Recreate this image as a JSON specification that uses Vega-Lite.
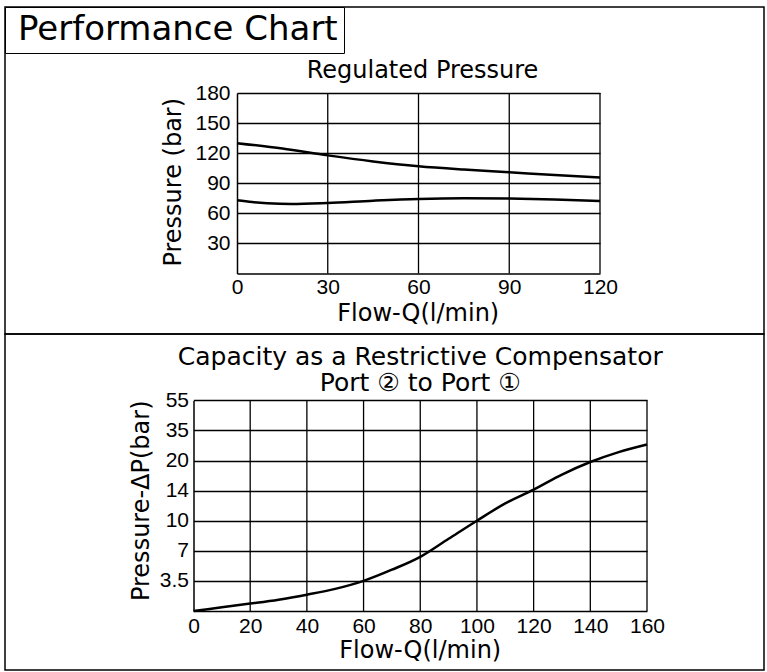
{
  "$schema": "https://vega.github.io/schema/vega-lite/v6.json",
  "background": "white",
  "padding": {"left": 4, "top": 6, "right": 0, "bottom": 0},
  "datasets": {
    "regulated": [
      {"series": "upper", "flow": 0, "pressure": 130},
      {"series": "upper", "flow": 15, "pressure": 124.6},
      {"series": "upper", "flow": 30, "pressure": 117.8},
      {"series": "upper", "flow": 45, "pressure": 111.8},
      {"series": "upper", "flow": 60, "pressure": 107},
      {"series": "upper", "flow": 75, "pressure": 103.7},
      {"series": "upper", "flow": 90, "pressure": 101},
      {"series": "upper", "flow": 105, "pressure": 98.2},
      {"series": "upper", "flow": 120, "pressure": 95.7},
      {"series": "lower", "flow": 0, "pressure": 73},
      {"series": "lower", "flow": 5, "pressure": 71.2},
      {"series": "lower", "flow": 10, "pressure": 70},
      {"series": "lower", "flow": 18, "pressure": 69.2},
      {"series": "lower", "flow": 30, "pressure": 70.3},
      {"series": "lower", "flow": 45, "pressure": 72.6},
      {"series": "lower", "flow": 60, "pressure": 74.4},
      {"series": "lower", "flow": 75, "pressure": 75.1},
      {"series": "lower", "flow": 90, "pressure": 74.8},
      {"series": "lower", "flow": 105, "pressure": 73.8},
      {"series": "lower", "flow": 120, "pressure": 72.4}
    ],
    "capacity": [
      {"flow": 0, "dp": 0},
      {"flow": 10, "dp": 0.43},
      {"flow": 20, "dp": 0.86},
      {"flow": 30, "dp": 1.32},
      {"flow": 40, "dp": 1.9},
      {"flow": 50, "dp": 2.57},
      {"flow": 60, "dp": 3.5},
      {"flow": 70, "dp": 4.8},
      {"flow": 80, "dp": 6.3},
      {"flow": 90, "dp": 8.2},
      {"flow": 100, "dp": 10},
      {"flow": 110, "dp": 12.3},
      {"flow": 120, "dp": 14.2},
      {"flow": 130, "dp": 17.2},
      {"flow": 140, "dp": 19.7},
      {"flow": 150, "dp": 24.2},
      {"flow": 160, "dp": 28}
    ],
    "gridTop": [{"flow": 30}, {"flow": 60}, {"flow": 90}, {"flow": 120}],
    "gridBottom": [{"flow": 20}, {"flow": 40}, {"flow": 60}, {"flow": 80}, {"flow": 100}, {"flow": 120}, {"flow": 140}, {"flow": 160}],
    "header": [{"chart": "Performance Chart"}]
  },
  "vconcat": [
    {
      "width": 759,
      "height": 327,
      "title": {
        "text": "Regulated Pressure",
        "font": "DejaVu Sans",
        "fontSize": 24,
        "fontWeight": "normal",
        "color": "black",
        "anchor": "middle",
        "frame": "group",
        "baseline": "alphabetic",
        "dx": 38,
        "offset": -95
      },
      "layer": [
        {
          "data": {"name": "gridTop"},
          "mark": {"type": "rule", "color": "black", "strokeWidth": 1.3},
          "encoding": {
            "x": {"field": "flow", "type": "quantitative"},
            "y": {"datum": 0, "type": "quantitative"},
            "y2": {"datum": 180}
          }
        },
        {
          "data": {"name": "regulated"},
          "mark": {"type": "line", "interpolate": "monotone", "color": "black", "strokeWidth": 2.5},
          "encoding": {
            "x": {
              "field": "flow", "type": "quantitative",
              "scale": {"domain": [0, 120], "range": [232, 595], "nice": false, "zero": false},
              "axis": {
                "values": [0, 30, 60, 90, 120],
                "grid": false,
                "title": "Flow-Q(l/min)",
                "offset": -60.5,
                "labelPadding": 20,
                "labelBaseline": "alphabetic",
                "titleX": 412.75,
                "titleY": 47,
                "titleBaseline": "alphabetic",
                "titleAlign": "center"
              }
            },
            "y": {
              "field": "pressure", "type": "quantitative",
              "scale": {"domain": [0, 180], "range": [266.5, 86], "nice": false, "zero": false},
              "axis": {
                "values": [30, 60, 90, 120, 150, 180],
                "title": "Pressure (bar)",
                "offset": -232,
                "labelPadding": 7,
                "titleX": -63.25,
                "titleY": 174.75,
                "titleBaseline": "middle",
                "titleAlign": "center",
                "titleAngle": -90
              }
            },
            "detail": {"field": "series", "type": "nominal"}
          }
        },
        {
          "data": {"name": "header"},
          "mark": {"type": "point", "opacity": 0},
          "encoding": {
            "color": {
              "field": "chart", "type": "nominal",
              "scale": {"range": ["black"]},
              "legend": {
                "orient": "top-left",
                "offset": 0,
                "title": null,
                "padding": 6,
                "strokeColor": "black",
                "fillColor": "white",
                "symbolType": "square",
                "symbolSize": 0,
                "symbolStrokeWidth": 0,
                "symbolOpacity": 0,
                "symbolOffset": 0,
                "labelOffset": -27,
                "labelAlign": "left",
                "columnPadding": 0,
                "rowPadding": 0,
                "labelFont": "DejaVu Sans",
                "labelFontSize": 34,
                "labelColor": "black",
                "labelLimit": 0
              }
            }
          }
        }
      ]
    },
    {
      "width": 759,
      "height": 336,
      "title": {
        "text": ["Capacity as a Restrictive Compensator", "Port ② to Port ①"],
        "font": "DejaVu Sans",
        "fontSize": 25,
        "fontWeight": "normal",
        "color": "black",
        "anchor": "middle",
        "frame": "group",
        "baseline": "alphabetic",
        "lineHeight": 26,
        "dx": 35.75,
        "offset": -82
      },
      "layer": [
        {
          "data": {"name": "gridBottom"},
          "mark": {"type": "rule", "color": "black", "strokeWidth": 1.3},
          "encoding": {
            "x": {"field": "flow", "type": "quantitative"},
            "y": {"datum": 0, "type": "quantitative"},
            "y2": {"datum": 55}
          }
        },
        {
          "data": {"name": "capacity"},
          "mark": {"type": "line", "interpolate": "monotone", "color": "black", "strokeWidth": 2.5},
          "encoding": {
            "x": {
              "field": "flow", "type": "quantitative",
              "scale": {"domain": [0, 160], "range": [188.5, 642], "nice": false, "zero": false},
              "axis": {
                "values": [0, 20, 40, 60, 80, 100, 120, 140, 160],
                "grid": false,
                "title": "Flow-Q(l/min)",
                "offset": -59,
                "labelPadding": 21,
                "labelBaseline": "alphabetic",
                "titleX": 414.75,
                "titleY": 46,
                "titleBaseline": "alphabetic",
                "titleAlign": "center"
              }
            },
            "y": {
              "field": "dp", "type": "quantitative",
              "scale": {
                "type": "linear",
                "domain": [0, 3.5, 7, 10, 14, 20, 35, 55],
                "range": [277, 246.9, 216.8, 186.7, 156.6, 126.5, 96.4, 66.3],
                "nice": false, "zero": false
              },
              "axis": {
                "values": [3.5, 7, 10, 14, 20, 35, 55],
                "labelExpr": "'' + datum.value",
                "title": "Pressure-ΔP(bar)",
                "offset": -188.5,
                "labelPadding": 5,
                "titleX": -52.25,
                "titleY": 166.25,
                "titleBaseline": "middle",
                "titleAlign": "center",
                "titleAngle": -90
              }
            }
          }
        }
      ]
    }
  ],
  "spacing": 0,
  "bounds": "flush",
  "config": {
    "view": {"stroke": "black", "strokeWidth": 1.5},
    "axis": {
      "domain": true,
      "domainColor": "black",
      "domainWidth": 1.5,
      "grid": true,
      "gridColor": "black",
      "gridOpacity": 1,
      "gridWidth": 1.3,
      "ticks": false,
      "tickSize": 0,
      "labelFlush": false,
      "labelBound": false,
      "labelOverlap": false,
      "labelFont": "'Liberation Sans Narrow', 'Liberation Sans', sans-serif",
      "labelFontSize": 21,
      "labelColor": "black",
      "titleFont": "DejaVu Sans",
      "titleFontSize": 24,
      "titleFontWeight": "normal",
      "titleColor": "black"
    }
  }
}
